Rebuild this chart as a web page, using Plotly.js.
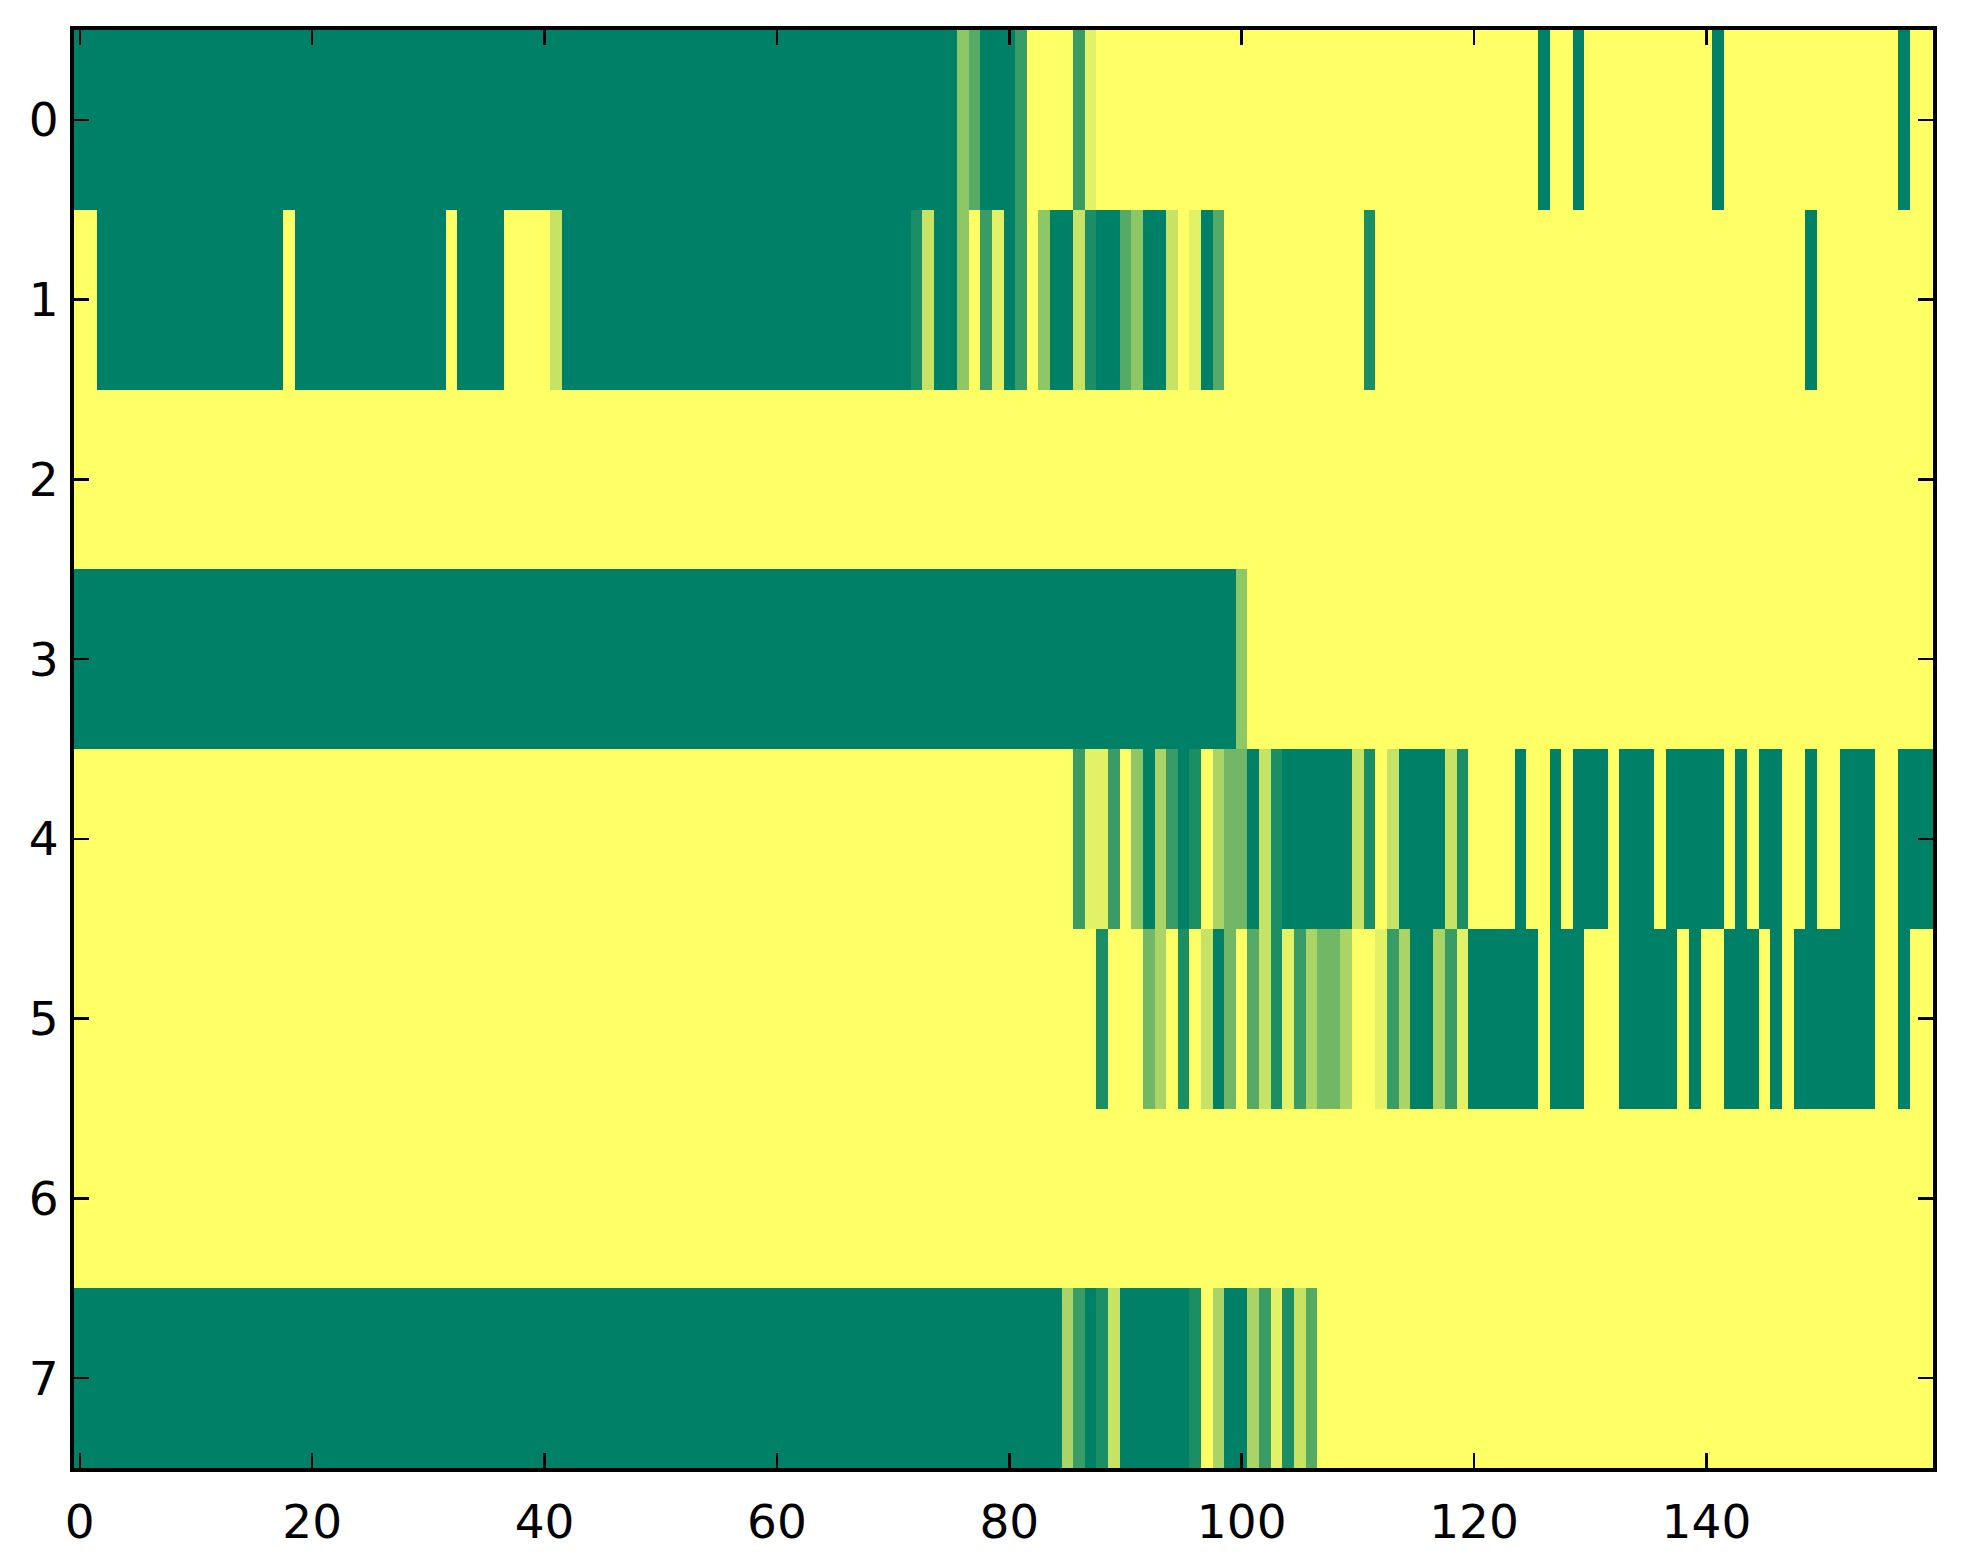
<!DOCTYPE html>
<html>
<head>
<meta charset="utf-8">
<script src="https://cdn.plot.ly/plotly-3.0.1.min.js"></script>
<style>
  html, body { margin: 0; padding: 0; background: #ffffff; }
  #chart { width: 1963px; height: 1564px; }
</style>
</head>
<body>
<div id="chart"></div>
<script>
// Levels 0..9 (summer colormap, 0 = green, 9 = yellow), stored as [level, run length] per row
const row0Runs = [[0,76],[5,1],[3,1],[0,3],[2,1],[9,4],[2,1],[8,1],[9,38],[0,1],[9,2],[0,1],[9,11],[0,1],[9,15],[0,1],[9,2]];
const row1Runs = [[9,2],[0,16],[9,1],[0,13],[9,1],[0,4],[9,4],[7,1],[0,30],[1,1],[7,1],[0,2],[5,1],[9,1],[2,1],[8,1],[0,1],[2,1],[9,1],[5,1],[0,2],[7,1],[1,1],[0,2],[3,1],[5,1],[0,2],[7,1],[9,1],[8,1],[0,1],[3,1],[9,12],[1,1],[9,37],[0,1],[9,10]];
const row2Runs = [[9,160]];
const row3Runs = [[0,100],[5,1],[9,59]];
const row4Runs = [[9,86],[2,1],[8,2],[2,1],[9,1],[5,1],[0,1],[6,1],[2,1],[0,1],[1,1],[9,1],[6,1],[4,2],[0,1],[7,1],[1,1],[0,6],[7,1],[1,1],[9,1],[7,1],[0,4],[7,1],[1,1],[9,4],[0,1],[9,2],[0,1],[9,1],[0,3],[9,1],[0,3],[9,1],[0,5],[9,1],[0,1],[9,1],[0,2],[9,2],[0,1],[9,2],[0,3],[9,2],[0,3]];
const row5Runs = [[9,88],[1,1],[9,3],[4,1],[6,1],[9,1],[1,1],[9,1],[7,1],[0,1],[4,1],[9,1],[3,1],[7,1],[1,1],[8,1],[2,1],[6,1],[4,2],[6,1],[9,2],[8,1],[2,1],[6,1],[0,2],[6,1],[2,1],[8,1],[0,6],[9,1],[0,3],[9,3],[0,5],[9,1],[0,1],[9,2],[0,3],[9,1],[0,1],[9,1],[0,7],[9,2],[0,1],[9,2]];
const row6Runs = [[9,160]];
const row7Runs = [[0,85],[6,1],[2,1],[0,1],[1,1],[7,1],[0,6],[1,1],[9,1],[6,1],[0,2],[6,1],[2,1],[8,1],[1,1],[7,1],[3,1],[9,53]];

const rowLabels = [0, 1, 2, 3, 4, 5, 6, 7];
const xTicks = [0, 20, 40, 60, 80, 100, 120, 140];
const levelMin = 0;
const levelMax = 9;

function expand(runs) {
  const out = [];
  runs.forEach(([v, n]) => { for (let i = 0; i < n; i++) out.push(v); });
  return out;
}

const z = [row0Runs, row1Runs, row2Runs, row3Runs, row4Runs, row5Runs, row6Runs, row7Runs].map(expand);
const nCols = z[0].length;
const cols = [];
for (let i = 0; i < nCols; i++) cols.push(i);

const trace = {
  type: 'heatmap',
  z: z,
  x: cols,
  y: rowLabels,
  zmin: levelMin,
  zmax: levelMax,
  colorscale: [[0, '#008066'], [1, '#ffff66']],
  showscale: false,
  hoverinfo: 'skip'
};

const axisCommon = {
  showline: true,
  linecolor: '#000000',
  linewidth: 4,
  mirror: 'ticks',
  ticks: 'inside',
  ticklen: 15,
  tickwidth: 2.5,
  tickcolor: '#000000',
  showgrid: false,
  zeroline: false,
  tickfont: { family: 'DejaVu Sans', size: 47, color: '#000000' }
};

const layout = {
  width: 1963,
  height: 1564,
  margin: { l: 74, r: 30, t: 30, b: 96, pad: 0 },
  paper_bgcolor: '#ffffff',
  plot_bgcolor: '#ffffff',
  xaxis: Object.assign({}, axisCommon, {
    range: [-0.5, nCols - 0.5],
    tickmode: 'array',
    tickvals: xTicks,
    ticktext: xTicks.map(String),
    ticklabelstandoff: 10
  }),
  yaxis: Object.assign({}, axisCommon, {
    range: [rowLabels.length - 0.5, -0.5],
    tickmode: 'array',
    tickvals: rowLabels,
    ticktext: rowLabels.map(String),
    ticklabelstandoff: 2
  }),
  showlegend: false
};

Plotly.newPlot('chart', [trace], layout, { displayModeBar: false, staticPlot: true });
</script>
</body>
</html>
